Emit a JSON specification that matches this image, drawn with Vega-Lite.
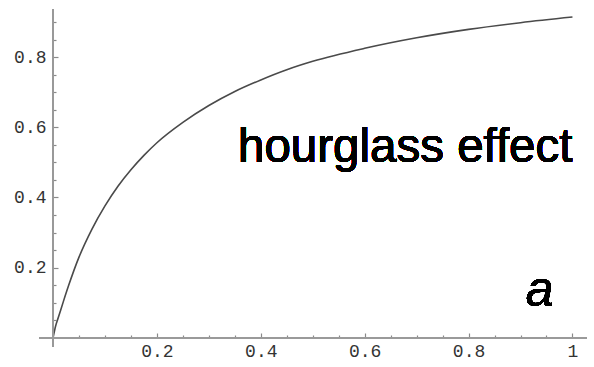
{
  "$schema": "https://vega.github.io/schema/vega-lite/v6.json",
  "width": 548,
  "height": 338,
  "autosize": "none",
  "padding": {"left": 39, "top": 9, "right": 7, "bottom": 20},
  "background": "white",
  "config": {"view": {"stroke": null}},
  "data": {
    "values": [
      {"x": 0, "y": 0},
      {"x": 0.005, "y": 0.034},
      {"x": 0.01, "y": 0.057},
      {"x": 0.02, "y": 0.104},
      {"x": 0.03, "y": 0.149},
      {"x": 0.05, "y": 0.23},
      {"x": 0.075, "y": 0.31},
      {"x": 0.1, "y": 0.376},
      {"x": 0.125, "y": 0.432},
      {"x": 0.15, "y": 0.479},
      {"x": 0.175, "y": 0.52},
      {"x": 0.2, "y": 0.556},
      {"x": 0.25, "y": 0.614},
      {"x": 0.3, "y": 0.662},
      {"x": 0.35, "y": 0.702},
      {"x": 0.4, "y": 0.735},
      {"x": 0.45, "y": 0.764},
      {"x": 0.5, "y": 0.788},
      {"x": 0.6, "y": 0.825},
      {"x": 0.7, "y": 0.855},
      {"x": 0.8, "y": 0.879},
      {"x": 0.9, "y": 0.898},
      {"x": 1.0, "y": 0.914}
    ]
  },
  "layer": [
    {
      "mark": {"type": "line", "color": "#4a4a4a", "strokeWidth": 1.6, "interpolate": "monotone"},
      "encoding": {
        "x": {
          "field": "x",
          "type": "quantitative",
          "scale": {"domain": [-0.027, 1.028], "nice": false, "zero": false},
          "axis": {
            "orient": "bottom",
            "offset": -9,
            "values": [0.05, 0.1, 0.15, 0.2, 0.25, 0.3, 0.35, 0.4, 0.45, 0.5, 0.55, 0.6, 0.65, 0.7, 0.75, 0.8, 0.85, 0.9, 0.95, 1.0],
            "tickCount": 100,
            "format": "~g",
            "domain": false,
            "grid": false,
            "title": null,
            "tickColor": "#8a8a8a",
            "tickWidth": 1.2,
            "tickSize": {"condition": {"test": "abs(datum.value*5-round(datum.value*5))<0.001", "value": -5}, "value": -3},
            "labelExpr": "abs(datum.value*5-round(datum.value*5))<0.001 ? format(datum.value, '~g') : ''",
            "labelFont": "Liberation Mono",
            "labelFontSize": 18,
            "labelColor": "#333333",
            "labelPadding": 9,
            "labelFlush": false,
            "labelOverlap": false,
            "labelBound": false
          }
        },
        "y": {
          "field": "y",
          "type": "quantitative",
          "scale": {"domain": [-0.026, 0.937], "nice": false, "zero": false},
          "axis": {
            "orient": "left",
            "offset": -14,
            "values": [0.05, 0.1, 0.15, 0.2, 0.25, 0.3, 0.35, 0.4, 0.45, 0.5, 0.55, 0.6, 0.65, 0.7, 0.75, 0.8, 0.85, 0.9],
            "tickCount": 100,
            "format": "~g",
            "domain": false,
            "grid": false,
            "title": null,
            "tickColor": "#8a8a8a",
            "tickWidth": 1.2,
            "tickSize": {"condition": {"test": "abs(datum.value*5-round(datum.value*5))<0.001", "value": -5}, "value": -3},
            "labelExpr": "abs(datum.value*5-round(datum.value*5))<0.001 ? format(datum.value, '~g') : ''",
            "labelFont": "Liberation Mono",
            "labelFontSize": 18,
            "labelColor": "#333333",
            "labelPadding": 12,
            "labelOverlap": false,
            "labelBound": false
          }
        }
      }
    },
    {
      "mark": {"type": "rule", "color": "#9a9a9a", "strokeWidth": 1.6},
      "encoding": {"y": {"datum": 0, "type": "quantitative"}}
    },
    {
      "mark": {"type": "rule", "color": "#9a9a9a", "strokeWidth": 1.6},
      "encoding": {"x": {"datum": 0, "type": "quantitative"}}
    },
    {
      "mark": {"type": "text", "text": "hourglass effect", "font": "Liberation Sans", "fontSize": 47.5, "align": "right", "baseline": "alphabetic", "color": "black"},
      "encoding": {
        "x": {"datum": 1.0, "type": "quantitative"},
        "y": {"datum": 0.5, "type": "quantitative"}
      }
    },
    {
      "mark": {"type": "text", "text": "a", "font": "Liberation Sans", "fontSize": 50, "fontStyle": "italic", "align": "left", "baseline": "alphabetic", "color": "black"},
      "encoding": {
        "x": {"datum": 0.91, "type": "quantitative"},
        "y": {"datum": 0.09, "type": "quantitative"}
      }
    }
  ]
}
